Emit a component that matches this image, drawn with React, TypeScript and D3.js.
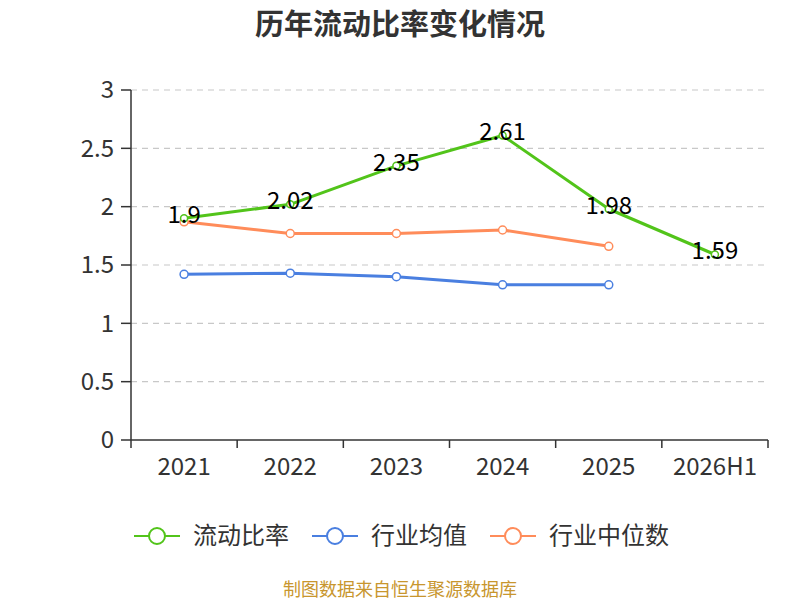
import React from 'react';
import * as d3 from 'd3';

const categories = ['2021', '2022', '2023', '2024', '2025', '2026H1'];
const currentRatio = [1.9, 2.02, 2.35, 2.61, 1.98, 1.59];
const industryAvg = [1.42, 1.43, 1.4, 1.33, 1.33];
const industryMedian = [1.87, 1.77, 1.77, 1.8, 1.66];
const yTicks = [0, 0.5, 1, 1.5, 2, 2.5, 3];

const seriesNames = ['流动比率', '行业均值', '行业中位数'];
const colors = ['#52c41a', '#4a7fe0', '#ff8c5a'];

const FONT = '"Noto Sans CJK SC", "Noto Sans", sans-serif';

const App: React.FC = () => {
  const width = 800;
  const height = 600;
  const margin = { top: 90, right: 32, bottom: 160, left: 131 };
  const innerW = width - margin.left - margin.right;
  const innerH = height - margin.top - margin.bottom;

  const x = d3.scaleBand<string>().domain(categories).range([0, innerW]);
  const y = d3.scaleLinear().domain([0, 3]).range([innerH, 0]);
  const cx = (c: string) => (x(c) ?? 0) + x.bandwidth() / 2;

  const line = d3.line<number>()
    .x((_, i) => cx(categories[i]))
    .y(d => y(d));

  const series = [currentRatio, industryAvg, industryMedian];
  const legendX = [134, 312, 490];

  return (
    <svg width={width} height={height} style={{ display: 'block', position: 'absolute', left: 0, top: 0 }} fontFamily={FONT}>
      <rect width={width} height={height} fill="#fff" />
      <text x={400} y={35} textAnchor="middle" fontSize={29} fontWeight="bold" fill="#333">
        历年流动比率变化情况
      </text>
      <g transform={`translate(${margin.left},${margin.top})`}>
        {yTicks.map(t => (
          <g key={t}>
            {t > 0 && (
              <line x1={0} x2={innerW} y1={y(t)} y2={y(t)} stroke="#c8c8c8" strokeDasharray="6,5" strokeWidth={1.2} />
            )}
            <line x1={-10} x2={0} y1={y(t)} y2={y(t)} stroke="#333" strokeWidth={1.5} />
            <text x={-17} y={y(t)} dy="0.35em" textAnchor="end" fontSize={24} fill="#333">
              {t}
            </text>
          </g>
        ))}
        <line x1={0} x2={0} y1={0} y2={innerH} stroke="#333" strokeWidth={1.5} />
        <line x1={0} x2={innerW} y1={innerH} y2={innerH} stroke="#333" strokeWidth={1.5} />
        {categories.map(c => (
          <line key={'t' + c} x1={x(c) ?? 0} x2={x(c) ?? 0} y1={innerH} y2={innerH + 8} stroke="#333" strokeWidth={1.5} />
        ))}
        <line x1={innerW} x2={innerW} y1={innerH} y2={innerH + 8} stroke="#333" strokeWidth={1.5} />
        {categories.map(c => (
          <text key={c} x={cx(c)} y={innerH + 35} textAnchor="middle" fontSize={24} fill="#333">
            {c}
          </text>
        ))}
        {[1, 2, 0].map(si => (
          <g key={si}>
            <path d={line(series[si]) ?? ''} fill="none" stroke={colors[si]} strokeWidth={3} strokeLinejoin="round" />
            {series[si].map((v, i) => (
              <circle key={i} cx={cx(categories[i])} cy={y(v)} r={si === 0 ? 3.5 : 4} fill="#fff" stroke={colors[si]} strokeWidth={1.5} />
            ))}
          </g>
        ))}
        {currentRatio.map((v, i) => (
          <text key={'l' + i} x={cx(categories[i])} y={y(v)} dy="0.2em" textAnchor="middle" fontSize={24} fill="#000">
            {v}
          </text>
        ))}
      </g>
      {seriesNames.map((n, i) => (
        <g key={n} transform={`translate(${legendX[i]},536)`}>
          <line x1={0} x2={46} y1={0} y2={0} stroke={colors[i]} strokeWidth={2} />
          <circle cx={23} cy={0} r={8} fill="#fff" stroke={colors[i]} strokeWidth={2} />
          <text x={59} y={0} dy="0.35em" fontSize={24} fill="#333">
            {n}
          </text>
        </g>
      ))}
      <text x={400} y={596} textAnchor="middle" fontSize={18} fill="#c8962e">
        制图数据来自恒生聚源数据库
      </text>
    </svg>
  );
};

export default App;
